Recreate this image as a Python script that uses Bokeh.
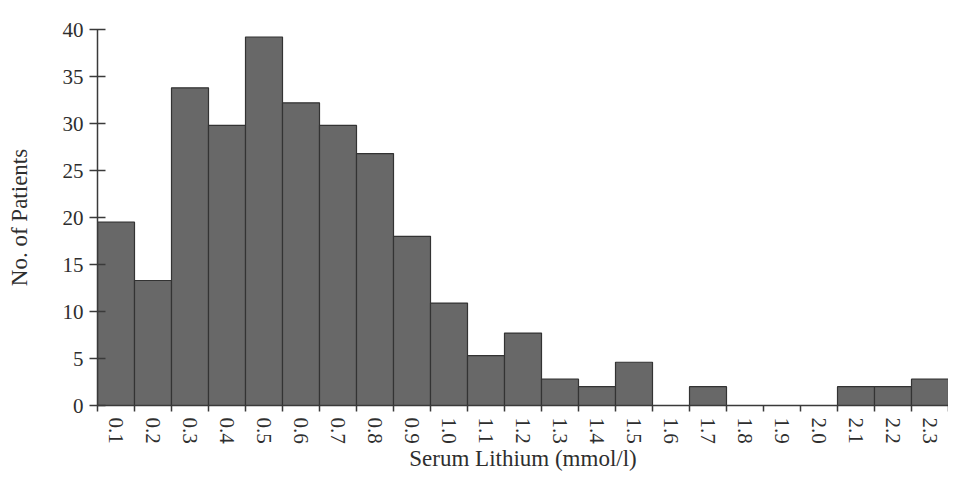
from bokeh.plotting import figure
from bokeh.models import FixedTicker, Range1d, ColumnDataSource, CustomJSTickFormatter
from bokeh.embed import file_html
from bokeh.resources import INLINE

categories = ["0.1", "0.2", "0.3", "0.4", "0.5", "0.6", "0.7", "0.8", "0.9", "1.0",
              "1.1", "1.2", "1.3", "1.4", "1.5", "1.6", "1.7", "1.8", "1.9", "2.0",
              "2.1", "2.2", "2.3"]
patients = [19.5, 13.3, 33.8, 29.8, 39.2, 32.2, 29.8, 26.8, 18.0, 10.9,
            5.3, 7.7, 2.8, 2.0, 4.6, 0, 2.0, 0, 0, 0,
            2.0, 2.0, 2.8]
y_ticks = [0, 5, 10, 15, 20, 25, 30, 35, 40]
x_title = "Serum Lithium (mmol/l)"
y_title = "No. of Patients"

n = len(categories)
centers = [i + 0.5 for i in range(n)]
edges = list(range(n + 1))

src = ColumnDataSource(dict(x=centers, top=patients, cat=categories))

FONT = "Liberation Serif"
TXT = "#2e2e2e"
LINE = "#3a3a3a"

p = figure(width=948, height=473, output_backend="svg", toolbar_location=None,
           x_range=Range1d(0, n), y_range=Range1d(0, max(y_ticks)),
           min_border_left=97, min_border_right=0, min_border_top=29,
           min_border_bottom=0)
p.background_fill_color = "white"
p.border_fill_color = "white"
p.outline_line_color = None
p.grid.visible = False

p.vbar(x="x", top="top", width=1.0, bottom=0, source=src,
       fill_color="#686868", line_color="#333333", line_width=1.2)

# x axis
xa = p.xaxis[0]
xa.ticker = FixedTicker(ticks=centers, minor_ticks=edges)
xa.formatter = CustomJSTickFormatter(args=dict(labels=categories),
                                     code="return labels[Math.floor(tick)];")
xa.major_tick_out = 0
xa.major_tick_in = 0
xa.minor_tick_out = 6
xa.minor_tick_in = 0
xa.minor_tick_line_color = LINE
xa.minor_tick_line_width = 1.5
xa.major_label_orientation = "vertical"
xa.major_label_standoff = 6
xa.major_label_text_font = FONT
xa.major_label_text_font_size = "21px"
xa.major_label_text_color = TXT
xa.axis_line_color = LINE
xa.axis_line_width = 1.5
xa.axis_label = x_title
xa.axis_label_text_font = FONT
xa.axis_label_text_font_size = "23px"
xa.axis_label_text_font_style = "normal"
xa.axis_label_text_color = TXT
xa.axis_label_standoff = -1

# y axis
ya = p.yaxis[0]
ya.ticker = FixedTicker(ticks=y_ticks)
ya.major_tick_out = 8
ya.major_tick_in = 8
ya.minor_tick_out = 0
ya.minor_tick_in = 0
ya.major_tick_line_color = LINE
ya.major_tick_line_width = 1.5
ya.major_label_standoff = 6
ya.major_label_text_font = FONT
ya.major_label_text_font_size = "21px"
ya.major_label_text_color = TXT
ya.axis_line_color = LINE
ya.axis_line_width = 1.5
ya.axis_label = y_title
ya.axis_label_text_font = FONT
ya.axis_label_text_font_size = "23px"
ya.axis_label_text_font_style = "normal"
ya.axis_label_text_color = TXT
ya.axis_label_standoff = 28

open("out.html", "w").write(file_html(p, INLINE))
